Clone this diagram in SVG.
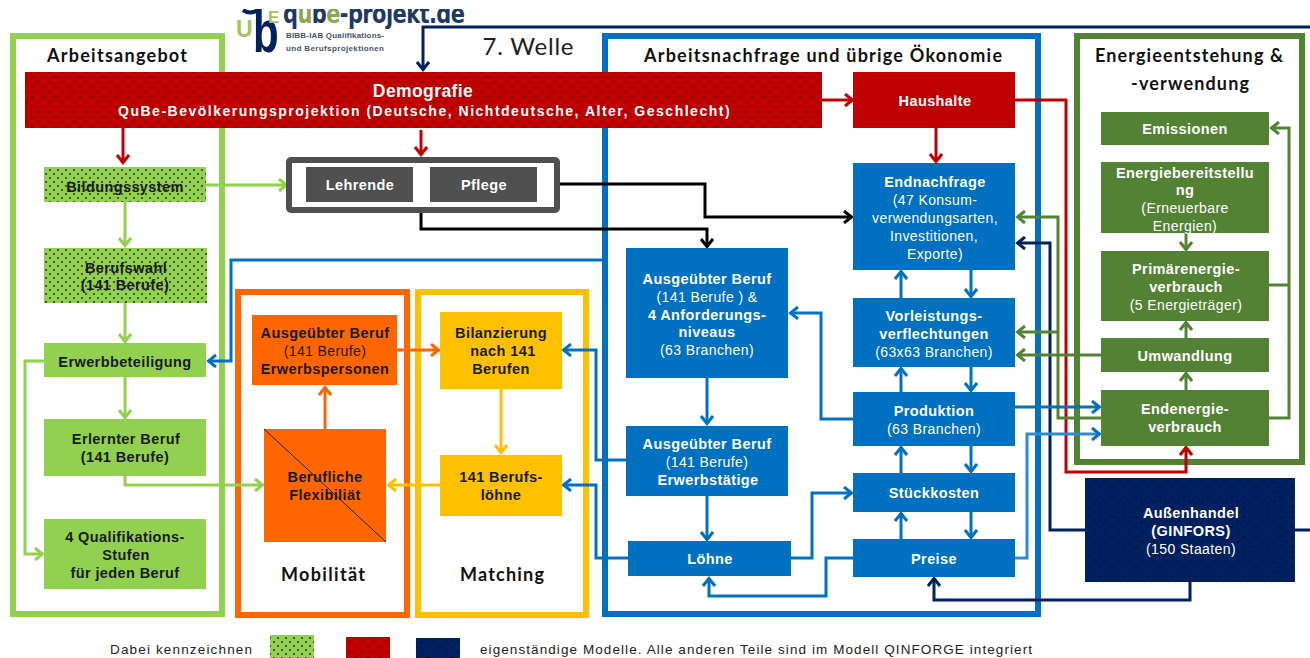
<svg xmlns="http://www.w3.org/2000/svg" width="1310" height="658" viewBox="0 0 1310 658">
<style>
text{font-family:"Liberation Sans",Arial,sans-serif;font-size:14px;letter-spacing:.4px;text-anchor:middle}
.w{fill:#fff}.k{fill:#1a1a1a}
.b{font-weight:bold;font-size:14.5px}
.t{font-family:Lato,"Open Sans",sans-serif;font-size:18px;font-weight:bold;fill:#111;letter-spacing:0}
.f{fill:none;stroke-width:6}
.c{fill:none;stroke-width:3}
.lg{stroke:#92D050}.re{stroke:#C00000}.bl{stroke:#0070C0}.nv{stroke:#002060}.dg{stroke:#548235}.bk{stroke:#000}.or{stroke:#FF6600}.ye{stroke:#FFC000}.lb{stroke:#2E8BD0}
.leg{font-size:13.5px;fill:#222;text-anchor:start;letter-spacing:0}
.lo{text-anchor:start;letter-spacing:0;font-weight:bold}
.sm{font-size:8px;fill:#44546A}
.ah{fill:none;stroke-width:3}
</style>
<defs>
<pattern id="dk" width="8" height="8" patternUnits="userSpaceOnUse"><rect width="8" height="8" fill="#92D050"/><circle cx="2" cy="2" r=".9" fill="#222"/><circle cx="6" cy="6" r=".9" fill="#222"/></pattern>
<pattern id="dr" width="12" height="10" patternUnits="userSpaceOnUse"><rect width="12" height="10" fill="#C00000"/><circle cx="2" cy="2" r=".8" fill="#111"/><circle cx="8" cy="7" r=".8" fill="#111"/></pattern>
<pattern id="dn" width="12" height="10" patternUnits="userSpaceOnUse"><rect width="12" height="10" fill="#002060"/><circle cx="2" cy="2" r=".7" fill="#000"/><circle cx="8" cy="7" r=".7" fill="#000"/></pattern>
<clipPath id="lc"><rect x="230" y="9" width="250" height="50"/></clipPath>
<marker id="a-lg" viewBox="0 0 12 14" refX="10" refY="7" markerWidth="12" markerHeight="14" markerUnits="userSpaceOnUse" orient="auto"><path class="ah" d="M2 1L9.5 7L2 13" stroke="#92D050"/></marker>
<marker id="a-re" viewBox="0 0 12 14" refX="10" refY="7" markerWidth="12" markerHeight="14" markerUnits="userSpaceOnUse" orient="auto"><path class="ah" d="M2 1L9.5 7L2 13" stroke="#C00000"/></marker>
<marker id="a-bl" viewBox="0 0 12 14" refX="10" refY="7" markerWidth="12" markerHeight="14" markerUnits="userSpaceOnUse" orient="auto"><path class="ah" d="M2 1L9.5 7L2 13" stroke="#0070C0"/></marker>
<marker id="a-nv" viewBox="0 0 12 14" refX="10" refY="7" markerWidth="12" markerHeight="14" markerUnits="userSpaceOnUse" orient="auto"><path class="ah" d="M2 1L9.5 7L2 13" stroke="#002060"/></marker>
<marker id="a-dg" viewBox="0 0 12 14" refX="10" refY="7" markerWidth="12" markerHeight="14" markerUnits="userSpaceOnUse" orient="auto"><path class="ah" d="M2 1L9.5 7L2 13" stroke="#548235"/></marker>
<marker id="a-bk" viewBox="0 0 12 14" refX="10" refY="7" markerWidth="12" markerHeight="14" markerUnits="userSpaceOnUse" orient="auto"><path class="ah" d="M2 1L9.5 7L2 13" stroke="#000"/></marker>
<marker id="a-or" viewBox="0 0 12 14" refX="10" refY="7" markerWidth="12" markerHeight="14" markerUnits="userSpaceOnUse" orient="auto"><path class="ah" d="M2 1L9.5 7L2 13" stroke="#FF6600"/></marker>
<marker id="a-ye" viewBox="0 0 12 14" refX="10" refY="7" markerWidth="12" markerHeight="14" markerUnits="userSpaceOnUse" orient="auto"><path class="ah" d="M2 1L9.5 7L2 13" stroke="#FFC000"/></marker>
</defs>
<rect width="1310" height="658" fill="#fff"/>

<g id="logo" clip-path="url(#lc)">
<text class="lo" x="236" y="37" style="font-size:23px;fill:#A8C060">U</text>
<path d="M243 10Q250 15 258 10" fill="none" stroke="#002060" stroke-width="4"/>
<text class="lo" transform="translate(253 52) scale(.7 1)" style="font-size:60px;fill:#002060">b</text>
<text class="lo" x="268" y="23" style="font-size:17px;fill:#A8C060">E</text>
<text class="lo" transform="translate(283 23) scale(1 1.25)" style="font-family:'DejaVu Sans',sans-serif;font-size:21px;fill:#1F3864" textLength="182"><tspan>q</tspan><tspan fill="#8FA84A">u</tspan><tspan>b</tspan><tspan fill="#8FA84A">e</tspan>-projekt.de</text>
<text class="lo sm" x="286" y="38" textLength="98">BIBB-IAB Qualifikations-</text>
<text class="lo sm" x="286" y="51" textLength="98">und Berufsprojektionen</text>
</g>
<text x="528" y="55" style="font-family:Lato,'Open Sans',sans-serif;font-size:24px;fill:#222;letter-spacing:0" textLength="91">7. Welle</text>

<g id="frames">
<rect id="frame-arbeitsangebot" class="f lg" x="13" y="36" width="209" height="578"/>
<rect id="frame-nachfrage" class="f bl" x="605" y="36" width="433" height="578"/>
<rect id="frame-energie" class="f dg" x="1077" y="36" width="225" height="426"/>
<rect id="frame-mobil" class="f or" x="238" y="292" width="169" height="323"/>
<rect id="frame-match" class="f ye" x="418" y="292" width="168" height="323"/>
<text class="t" x="117" y="62" textLength="140">Arbeitsangebot</text>
<text class="t" x="823" y="62" textLength="358">Arbeitsnachfrage  und übrige Ökonomie</text>
<text class="t" x="1189" y="62" textLength="188">Energieentstehung &amp;</text>
<text class="t" x="1190" y="90" textLength="118">-verwendung</text>
<text class="t" x="323" y="581" textLength="84">Mobilität</text>
<text class="t" x="502" y="581" textLength="84">Matching</text>
</g>

<g id="connectors">
<path class="c nv" marker-end="url(#a-nv)" d="M1310 27H423V70"/>
<path class="c re" marker-end="url(#a-re)" d="M123 128V163"/>
<path class="c re" marker-end="url(#a-re)" d="M421 130V155"/>
<path class="c re" marker-end="url(#a-re)" d="M822 100H853"/>
<path class="c re" marker-end="url(#a-re)" d="M936 128V162"/>
<path class="c re" marker-end="url(#a-re)" d="M1015 100H1066V472H1186V447"/>
<path class="c lg" marker-end="url(#a-lg)" d="M206 185H287"/>
<path class="c lg" marker-end="url(#a-lg)" d="M125 202V246"/>
<path class="c lg" marker-end="url(#a-lg)" d="M125 303V342"/>
<path class="c lg" marker-end="url(#a-lg)" d="M125 377V418"/>
<path class="c lg" marker-end="url(#a-lg)" d="M44 361H25V554H43"/>
<path class="c lg" marker-end="url(#a-lg)" d="M125 476V485H263"/>
<path class="c bl" marker-end="url(#a-bl)" d="M605 260H231V361H208"/>
<path class="c or" marker-end="url(#a-or)" d="M397 350H439"/>
<path class="c or" marker-end="url(#a-or)" d="M325 429V387"/>
<path class="c ye" marker-end="url(#a-ye)" d="M501 389V453"/>
<path class="c ye" marker-end="url(#a-ye)" d="M440 485H388"/>
<path class="c bl" marker-end="url(#a-bl)" d="M626 460H596V350H563"/>
<path class="c bl" marker-end="url(#a-bl)" d="M628 558H596V485H563"/>
<path class="c bl" marker-end="url(#a-bl)" d="M707 378V424"/>
<path class="c bl" marker-end="url(#a-bl)" d="M707 496V540"/>
<path class="c bk" marker-end="url(#a-bk)" d="M559 184H705V217H852"/>
<path class="c bk" marker-end="url(#a-bk)" d="M421 212V229H707V247"/>
<path class="c bl" marker-end="url(#a-bl)" d="M853 419H821V313H790"/>
<path class="c bl" marker-end="url(#a-bl)" d="M901 298V271"/>
<path class="c bl" marker-end="url(#a-bl)" d="M971 270V297"/>
<path class="c bl" marker-end="url(#a-bl)" d="M901 392V368"/>
<path class="c bl" marker-end="url(#a-bl)" d="M971 367V391"/>
<path class="c bl" marker-end="url(#a-bl)" d="M901 473V447"/>
<path class="c bl" marker-end="url(#a-bl)" d="M971 446V472"/>
<path class="c bl" marker-end="url(#a-bl)" d="M901 539V513"/>
<path class="c bl" marker-end="url(#a-bl)" d="M971 512V538"/>
<path class="c bl" marker-end="url(#a-bl)" d="M791 558H812V493H852"/>
<path class="c bl" marker-end="url(#a-bl)" d="M853 558H826V596H709V578"/>
<path class="c nv" marker-end="url(#a-nv)" d="M1190 582V600H934V578"/>
<path class="c nv" marker-end="url(#a-nv)" d="M1085 530H1050V243H1017"/>
<path class="c nv" d="M1295 530H1310"/>
<path class="c dg" marker-end="url(#a-dg)" d="M1101 418H1058V217H1017"/>
<path class="c dg" marker-end="url(#a-dg)" d="M1058 332H1017"/>
<path class="c dg" marker-end="url(#a-dg)" d="M1101 355H1017"/>
<path class="c dg" marker-end="url(#a-dg)" d="M1186 390V373"/>
<path class="c dg" marker-end="url(#a-dg)" d="M1186 338V322"/>
<path class="c dg" marker-end="url(#a-dg)" d="M1186 233V250"/>
<path class="c dg" marker-end="url(#a-dg)" d="M1269 418H1289V128H1271"/>
<path class="c dg" d="M1269 285H1289"/>
<path class="c bl" marker-end="url(#a-bl)" d="M1015 407H1100"/>
<path class="c lb" marker-end="url(#a-bl)" d="M1015 558H1027V434H1100"/>
</g>

<g id="demografie"><rect x="25" y="72" width="797" height="56" fill="url(#dr)"/>
<text class="w b" x="423" y="97" style="font-size:17.5px">Demografie</text>
<text class="w b" x="424" y="116" style="font-size:14px" textLength="612">QuBe-Bevölkerungsprojektion (Deutsche, Nichtdeutsche, Alter, Geschlecht)</text></g>
<g id="haushalte"><rect x="853" y="72" width="162" height="56" fill="#C00000"/><text class="w b" x="935" y="106">Haushalte</text></g>

<g id="lehrer-pflege"><rect x="289" y="160" width="268" height="50" fill="#fff" stroke="#505050" stroke-width="6" rx="2"/></g>
<g id="lehrende"><rect x="306" y="167" width="107" height="35" fill="#505050"/><text class="w b" x="360" y="190">Lehrende</text></g>
<g id="pflege"><rect x="430" y="167" width="107" height="35" fill="#505050"/><text class="w b" x="484" y="190">Pflege</text></g>

<g id="bildungssystem"><rect x="44" y="167" width="162" height="35" fill="url(#dk)"/><text class="k b" x="125" y="192">Bildungssystem</text></g>
<g id="berufswahl"><rect x="44" y="248" width="163" height="55" fill="url(#dk)"/><text class="k b" x="126" y="273">Berufswahl</text><text class="k b" x="125" y="290">(141 Berufe)</text></g>
<g id="erwerbbeteiligung"><rect x="44" y="343" width="162" height="34" fill="#92D050"/><text class="k b" x="125" y="367">Erwerbbeteiligung</text></g>
<g id="erlernter"><rect x="44" y="419" width="162" height="57" fill="#92D050"/><text class="k b" x="126" y="444">Erlernter Beruf</text><text class="k b" x="125" y="462">(141 Berufe)</text></g>
<g id="qualifikation"><rect x="44" y="519" width="162" height="70" fill="#92D050"/><text class="k b" x="125" y="542">4 Qualifikations-</text><text class="k b" x="126" y="560">Stufen</text><text class="k b" x="125" y="578">für jeden Beruf</text></g>

<g id="ausgeuebt-orange"><rect x="252" y="315" width="145" height="70" fill="#FF6600"/><text class="k b" x="325" y="338">Ausgeübter Beruf</text><text class="k" x="325" y="356">(141 Berufe)</text><text class="k b" x="325" y="374">Erwerbspersonen</text></g>
<g id="flexibilitaet"><rect x="264" y="429" width="122" height="113" fill="#FF6600"/><path d="M264 429L386 542" stroke="#222" stroke-width="1" fill="none"/><text class="k b" x="325" y="482">Berufliche</text><text class="k b" x="325" y="500">Flexibiliät</text></g>
<g id="bilanzierung"><rect x="440" y="312" width="122" height="77" fill="#FFC000"/><text class="k b" x="501" y="338">Bilanzierung</text><text class="k b" x="503" y="356">nach 141</text><text class="k b" x="501" y="374">Berufen</text></g>
<g id="berufsloehne"><rect x="440" y="455" width="122" height="61" fill="#FFC000"/><text class="k b" x="501" y="482">141 Berufs-</text><text class="k b" x="501" y="500">löhne</text></g>

<g id="ausgeuebt1"><rect x="626" y="248" width="162" height="130" fill="#0070C0"/><text class="w b" x="707" y="284">Ausgeübter Beruf</text><text class="w" x="707" y="302">(141 Berufe ) &amp;</text><text class="w b" x="707" y="320">4 Anforderungs-</text><text class="w b" x="707" y="337">niveaus</text><text class="w" x="707" y="355">(63 Branchen)</text></g>
<g id="ausgeuebt2"><rect x="626" y="426" width="162" height="70" fill="#0070C0"/><text class="w b" x="707" y="449">Ausgeübter Beruf</text><text class="w" x="707" y="467">(141 Berufe)</text><text class="w b" x="708" y="485">Erwerbstätige</text></g>
<g id="loehne"><rect x="628" y="541" width="163" height="35" fill="#0070C0"/><text class="w b" x="710" y="564">Löhne</text></g>
<g id="endnachfrage"><rect x="853" y="163" width="162" height="107" fill="#0070C0"/><text class="w b" x="935" y="187">Endnachfrage</text><text class="w" x="935" y="205">(47 Konsum-</text><text class="w" x="935" y="223">verwendungsarten,</text><text class="w" x="934" y="241">Investitionen,</text><text class="w" x="935" y="259">Exporte)</text></g>
<g id="vorleistung"><rect x="853" y="298" width="162" height="69" fill="#0070C0"/><text class="w b" x="934" y="321">Vorleistungs-</text><text class="w b" x="934" y="339">verflechtungen</text><text class="w" x="934" y="357">(63x63 Branchen)</text></g>
<g id="produktion"><rect x="853" y="392" width="162" height="54" fill="#0070C0"/><text class="w b" x="934" y="416">Produktion</text><text class="w" x="934" y="434">(63 Branchen)</text></g>
<g id="stueckkosten"><rect x="853" y="473" width="162" height="39" fill="#0070C0"/><text class="w b" x="934" y="498">Stückkosten</text></g>
<g id="preise"><rect x="853" y="539" width="162" height="38" fill="#0070C0"/><text class="w b" x="934" y="564">Preise</text></g>

<g id="emissionen"><rect x="1101" y="112" width="168" height="33" fill="#548235"/><text class="w b" x="1185" y="134">Emissionen</text></g>
<g id="energiebereitstellung"><rect x="1101" y="162" width="168" height="71" fill="#548235"/><text class="w b" x="1185" y="178">Energiebereitstellu</text><text class="w b" x="1185" y="195">ng</text><text class="w" x="1185" y="213">(Erneuerbare</text><text class="w" x="1185" y="231">Energien)</text></g>
<g id="primaer"><rect x="1101" y="251" width="168" height="70" fill="#548235"/><text class="w b" x="1186" y="274">Primärenergie-</text><text class="w b" x="1186" y="292">verbrauch</text><text class="w" x="1186" y="310">(5 Energieträger)</text></g>
<g id="umwandlung"><rect x="1101" y="338" width="168" height="34" fill="#548235"/><text class="w b" x="1185" y="361">Umwandlung</text></g>
<g id="endenergie"><rect x="1101" y="390" width="168" height="56" fill="#548235"/><text class="w b" x="1185" y="414">Endenergie-</text><text class="w b" x="1185" y="432">verbrauch</text></g>
<g id="aussenhandel"><rect x="1085" y="478" width="210" height="104" fill="url(#dn)"/><text class="w b" x="1191" y="518">Außenhandel</text><text class="w b" x="1191" y="536">(GINFORS)</text><text class="w" x="1191" y="554">(150 Staaten)</text></g>

<g id="legende">
<text class="leg" x="110" y="654" textLength="142">Dabei kennzeichnen</text>
<rect x="270" y="635" width="44" height="23" fill="url(#dk)"/>
<rect x="346" y="637" width="44" height="21" fill="url(#dr)"/>
<rect x="416" y="638" width="44" height="20" fill="url(#dn)"/>
<text class="leg" x="480" y="654" textLength="552">eigenständige Modelle. Alle anderen Teile sind im Modell QINFORGE integriert</text>
</g>
</svg>
